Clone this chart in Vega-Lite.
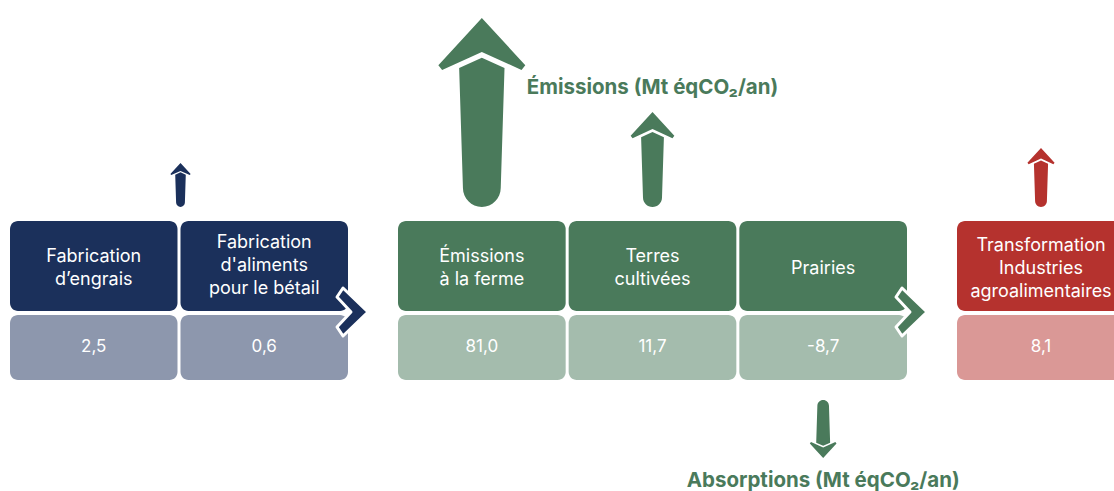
{
  "$schema": "https://vega.github.io/schema/vega-lite/v6.json",
  "padding": {"left": 10, "right": 0, "top": 0, "bottom": 0},
  "spacing": 50,
  "bounds": "flush",
  "config": {
    "view": {"stroke": null},
    "font": "Inter",
    "locale": {"number": {"decimal": ",", "thousands": " ", "grouping": [3], "currency": ["", " €"], "minus": "-"}}
  },
  "datasets": {
    "etapes": [
      {"groupe": "Amont", "etape": "engrais", "libelle": "Fabrication\nd’engrais", "valeur": 2.5},
      {"groupe": "Amont", "etape": "aliments", "libelle": "Fabrication\nd'aliments\npour le bétail", "valeur": 0.6},
      {"groupe": "Ferme", "etape": "ferme", "libelle": "Émissions\nà la ferme", "valeur": 81.0},
      {"groupe": "Ferme", "etape": "cultures", "libelle": "Terres\ncultivées", "valeur": 11.7},
      {"groupe": "Ferme", "etape": "prairies", "libelle": "Prairies", "valeur": -8.7},
      {"groupe": "Aval", "etape": "transformation", "libelle": "Transformation\nIndustries\nagroalimentaires", "valeur": 8.1}
    ],
    "flux": [
      {"groupe": "Amont", "etape": "aliments", "sens": "émission", "valeur": 3.1},
      {"groupe": "Ferme", "etape": "ferme", "sens": "émission", "valeur": 81.0},
      {"groupe": "Ferme", "etape": "cultures", "sens": "émission", "valeur": 11.7},
      {"groupe": "Ferme", "etape": "prairies", "sens": "absorption", "valeur": -8.7},
      {"groupe": "Aval", "etape": "transformation", "sens": "émission", "valeur": 8.1}
    ],
    "titres": [
      {"etape": "cultures", "sens": "émission", "texte": "Émissions (Mt éqCO₂/an)"},
      {"etape": "prairies", "sens": "absorption", "texte": "Absorptions (Mt éqCO₂/an)"}
    ]
  },
  "hconcat": [
    {
      "width": 338, "height": 491,
      "data": {"name": "etapes"},
      "transform": [{"filter": "datum.groupe === 'Amont'"}],
      "encoding": {
        "x": {"field": "etape", "type": "nominal", "axis": null, "scale": {"domain": ["engrais", "aliments"], "paddingInner": 0.0176, "paddingOuter": 0}},
        "color": {"field": "groupe", "type": "nominal", "legend": null, "scale": {"domain": ["Amont", "Ferme", "Aval"], "range": ["#1b305b", "#4a7a5b", "#b5322e"]}}
      },
      "layer": [
        {"mark": {"type": "rect", "cornerRadius": 8}, "encoding": {"y": {"value": 221}, "y2": {"value": 311}}},
        {"mark": {"type": "rect", "cornerRadius": 8, "opacity": 0.5}, "encoding": {"y": {"value": 315}, "y2": {"value": 380}}},
        {"transform": [{"filter": "length(split(datum.libelle, '\\n')) === 2"}],
         "mark": {"type": "text", "lineBreak": "\n", "fontSize": 18, "lineHeight": 23, "baseline": "middle"}, "encoding": {"y": {"value": 257}, "text": {"field": "libelle"}, "color": {"value": "white"}}},
        {"transform": [{"filter": "length(split(datum.libelle, '\\n')) === 3"}],
         "mark": {"type": "text", "lineBreak": "\n", "fontSize": 18, "lineHeight": 23, "baseline": "middle"}, "encoding": {"y": {"value": 243}, "text": {"field": "libelle"}, "color": {"value": "white"}}},
        {"mark": {"type": "text", "fontSize": 17, "baseline": "middle"}, "encoding": {"y": {"value": 347}, "text": {"field": "valeur", "type": "quantitative", "format": ".1f"}, "color": {"value": "white"}}},
        {"transform": [{"filter": "datum.etape === 'aliments'"}],
         "mark": {"type": "point", "shape": "M-5,-24 L20,0 L-5,24 L-11,15 L3,0 L-11,-15 Z", "size": 4, "filled": true, "opacity": 1, "stroke": "white", "strokeWidth": 3, "strokeJoin": "round", "strokeOpacity": 1},
         "encoding": {"x": {"field": "etape", "type": "nominal", "bandPosition": 1}, "y": {"value": 312}}},
        {"data": {"name": "flux"}, "transform": [{"filter": "datum.groupe === 'Amont'"}],
         "mark": {"type": "point", "shape": "M0,-2 L0.46,-1.5 L0.42,-1.45 L0,-1.64 L-0.42,-1.45 L-0.46,-1.5 Z M-0.24,-1.47 L0,-1.58 L0.24,-1.47 L0.2,-0.2 A0.2,0.2 0 0 1 -0.2,-0.2 Z", "filled": true, "opacity": 1, "strokeWidth": 0},
         "encoding": {"x": {"field": "etape", "type": "nominal", "bandPosition": 0}, "y": {"value": 207},
           "size": {"field": "valeur", "type": "quantitative", "legend": null, "scale": {"domain": [-8.7, 3.1, 8.1, 11.7, 81], "range": [3364, 1936, 3481, 9025, 35721]}}}}
      ]
    },
    {
      "width": 509, "height": 491,
      "data": {"name": "etapes"},
      "transform": [{"filter": "datum.groupe === 'Ferme'"}],
      "encoding": {
        "x": {"field": "etape", "type": "nominal", "axis": null, "scale": {"domain": ["ferme", "cultures", "prairies"], "paddingInner": 0.0176, "paddingOuter": 0}},
        "color": {"field": "groupe", "type": "nominal", "legend": null, "scale": {"domain": ["Amont", "Ferme", "Aval"], "range": ["#1b305b", "#4a7a5b", "#b5322e"]}}
      },
      "layer": [
        {"mark": {"type": "rect", "cornerRadius": 8}, "encoding": {"y": {"value": 221}, "y2": {"value": 311}}},
        {"mark": {"type": "rect", "cornerRadius": 8, "opacity": 0.5}, "encoding": {"y": {"value": 315}, "y2": {"value": 380}}},
        {"transform": [{"filter": "length(split(datum.libelle, '\\n')) === 1"}],
         "mark": {"type": "text", "lineBreak": "\n", "fontSize": 18, "lineHeight": 23, "baseline": "middle"}, "encoding": {"y": {"value": 269}, "text": {"field": "libelle"}, "color": {"value": "white"}}},
        {"transform": [{"filter": "length(split(datum.libelle, '\\n')) === 2"}],
         "mark": {"type": "text", "lineBreak": "\n", "fontSize": 18, "lineHeight": 23, "baseline": "middle"}, "encoding": {"y": {"value": 257}, "text": {"field": "libelle"}, "color": {"value": "white"}}},
        {"mark": {"type": "text", "fontSize": 17, "baseline": "middle"}, "encoding": {"y": {"value": 347}, "text": {"field": "valeur", "type": "quantitative", "format": ".1f"}, "color": {"value": "white"}}},
        {"transform": [{"filter": "datum.etape === 'prairies'"}],
         "mark": {"type": "point", "shape": "M-5,-24 L20,0 L-5,24 L-11,15 L3,0 L-11,-15 Z", "size": 4, "filled": true, "opacity": 1, "stroke": "white", "strokeWidth": 3, "strokeJoin": "round", "strokeOpacity": 1},
         "encoding": {"x": {"field": "etape", "type": "nominal", "bandPosition": 1}, "y": {"value": 312}}},
        {"data": {"name": "flux"}, "transform": [{"filter": "datum.groupe === 'Ferme' && datum.sens === 'émission'"}],
         "mark": {"type": "point", "shape": "M0,-2 L0.46,-1.5 L0.42,-1.45 L0,-1.64 L-0.42,-1.45 L-0.46,-1.5 Z M-0.24,-1.47 L0,-1.58 L0.24,-1.47 L0.2,-0.2 A0.2,0.2 0 0 1 -0.2,-0.2 Z", "filled": true, "opacity": 1, "strokeWidth": 0},
         "encoding": {"x": {"field": "etape", "type": "nominal"}, "y": {"value": 207},
           "size": {"field": "valeur", "type": "quantitative", "legend": null, "scale": {"domain": [-8.7, 3.1, 8.1, 11.7, 81], "range": [3364, 1936, 3481, 9025, 35721]}}}},
        {"data": {"name": "flux"}, "transform": [{"filter": "datum.groupe === 'Ferme' && datum.sens === 'absorption'"}],
         "mark": {"type": "point", "angle": 180, "shape": "M0,-2 L0.46,-1.5 L0.42,-1.45 L0,-1.64 L-0.42,-1.45 L-0.46,-1.5 Z M-0.24,-1.47 L0,-1.58 L0.24,-1.47 L0.2,-0.2 A0.2,0.2 0 0 1 -0.2,-0.2 Z", "filled": true, "opacity": 1, "strokeWidth": 0},
         "encoding": {"x": {"field": "etape", "type": "nominal"}, "y": {"value": 400},
           "size": {"field": "valeur", "type": "quantitative", "legend": null, "scale": {"domain": [-8.7, 3.1, 8.1, 11.7, 81], "range": [3364, 1936, 3481, 9025, 35721]}}}},
        {"data": {"name": "titres"}, "transform": [{"filter": "datum.sens === 'émission'"}],
         "mark": {"type": "text", "fontSize": 20.5, "fontWeight": "bold", "baseline": "middle"},
         "encoding": {"x": {"field": "etape", "type": "nominal"}, "y": {"value": 88}, "text": {"field": "texte"}, "color": {"value": "#4a7a5b"}}},
        {"data": {"name": "titres"}, "transform": [{"filter": "datum.sens === 'absorption'"}],
         "mark": {"type": "text", "fontSize": 20.5, "fontWeight": "bold", "baseline": "middle"},
         "encoding": {"x": {"field": "etape", "type": "nominal"}, "y": {"value": 481}, "text": {"field": "texte"}, "color": {"value": "#4a7a5b"}}}
      ]
    },
    {
      "width": 157, "height": 491,
      "data": {"name": "etapes"},
      "transform": [{"filter": "datum.groupe === 'Aval'"}],
      "encoding": {
        "x": {"field": "etape", "type": "nominal", "axis": null, "scale": {"domain": ["transformation"], "range": [0, 168], "paddingInner": 0, "paddingOuter": 0}},
        "color": {"field": "groupe", "type": "nominal", "legend": null, "scale": {"domain": ["Amont", "Ferme", "Aval"], "range": ["#1b305b", "#4a7a5b", "#b5322e"]}}
      },
      "layer": [
        {"mark": {"type": "rect", "cornerRadius": 8, "clip": true}, "encoding": {"y": {"value": 221}, "y2": {"value": 311}}},
        {"mark": {"type": "rect", "cornerRadius": 8, "opacity": 0.5, "clip": true}, "encoding": {"y": {"value": 315}, "y2": {"value": 380}}},
        {"transform": [{"filter": "length(split(datum.libelle, '\\n')) === 3"}],
         "mark": {"type": "text", "lineBreak": "\n", "fontSize": 18, "lineHeight": 23, "baseline": "middle", "clip": true}, "encoding": {"y": {"value": 246}, "text": {"field": "libelle"}, "color": {"value": "white"}}},
        {"mark": {"type": "text", "fontSize": 17, "baseline": "middle", "clip": true}, "encoding": {"y": {"value": 347}, "text": {"field": "valeur", "type": "quantitative", "format": ".1f"}, "color": {"value": "white"}}},
        {"data": {"name": "flux"}, "transform": [{"filter": "datum.groupe === 'Aval'"}],
         "mark": {"type": "point", "shape": "M0,-2 L0.46,-1.5 L0.42,-1.45 L0,-1.64 L-0.42,-1.45 L-0.46,-1.5 Z M-0.24,-1.47 L0,-1.58 L0.24,-1.47 L0.2,-0.2 A0.2,0.2 0 0 1 -0.2,-0.2 Z", "filled": true, "opacity": 1, "strokeWidth": 0},
         "encoding": {"x": {"field": "etape", "type": "nominal"}, "y": {"value": 207},
           "size": {"field": "valeur", "type": "quantitative", "legend": null, "scale": {"domain": [-8.7, 3.1, 8.1, 11.7, 81], "range": [3364, 1936, 3481, 9025, 35721]}}}}
      ]
    }
  ]
}
